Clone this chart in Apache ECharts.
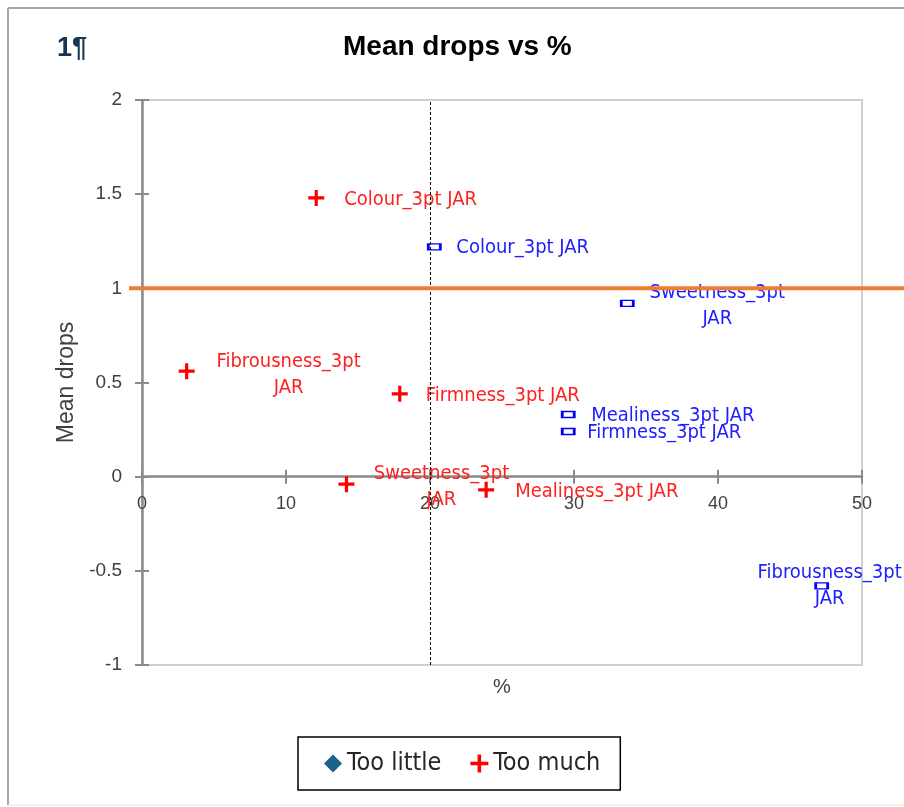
<!DOCTYPE html>
<html>
<head>
<meta charset="utf-8">
<script src="https://cdn.jsdelivr.net/npm/echarts@6/dist/echarts.min.js"></script>
<style>
  html, body { margin: 0; padding: 0; background: #ffffff; }
  #chart { width: 904px; height: 807px; }
</style>
</head>
<body>
<div id="chart"></div>
<script>
// ---- Data ----
const titleText = "Mean drops vs %";
const cornerText = "1¶";
const xAxisTitle = "%";
const yAxisTitle = "Mean drops";
const seriesNames = ["Too little", "Too much"];

const tooLittleX = [20.3, 33.7, 29.6, 29.6, 47.2];
const tooLittleY = [1.22, 0.92, 0.33, 0.24, -0.58];
const tooLittleLabels = ["Colour_3pt JAR", "Sweetness_3pt\nJAR", "Mealiness_3pt JAR", "Firmness_3pt JAR", "Fibrousness_3pt\nJAR"];

const tooMuchX = [12.1, 3.1, 17.9, 14.2, 23.9];
const tooMuchY = [1.48, 0.56, 0.44, -0.04, -0.07];
const tooMuchLabels = ["Colour_3pt JAR", "Fibrousness_3pt\nJAR", "Firmness_3pt JAR", "Sweetness_3pt\nJAR", "Mealiness_3pt JAR"];

const xMin = 0, xMax = 50, xInterval = 10;
const yMin = -1, yMax = 2, yInterval = 0.5;
const thresholdY = 1;          // horizontal reference line (orange)
const referenceX = 20;         // vertical dashed line

// ---- Layout / style (not data) ----
const gridLeft = 142, gridTop = 100, gridWidth = 720, gridHeight = 565;
// x axis crosses at y = 0: shift it up from the bottom edge by the scale
const xAxisOffset = -gridHeight * (0 - yMin) / (yMax - yMin);

const tooLittlePlacement = [
  { align: 'left', offset: [22, 1] },
  { align: 'center', offset: [90, 2] },
  { align: 'left', offset: [23, 1] },
  { align: 'left', offset: [19, 1] },
  { align: 'center', offset: [8, 0] }
];
const tooMuchPlacement = [
  { align: 'left', offset: [28, 2] },
  { align: 'center', offset: [102, 4] },
  { align: 'left', offset: [26, 2] },
  { align: 'center', offset: [95, 3] },
  { align: 'left', offset: [29, 2] }
];

const plusPath = 'path://M6,0h3v15h-3z M0,6h15v3h-15z';
const labelFont = 'DejaVu Sans Condensed';
const axisGray = '#8a8a8a';

function buildData(xs, ys, labels, placement, color) {
  return xs.map((x, i) => ({
    value: [x, ys[i]],
    label: {
      show: true,
      formatter: labels[i],
      position: 'inside',
      align: placement[i].align,
      verticalAlign: 'middle',
      offset: placement[i].offset,
      color: color,
      fontFamily: labelFont,
      fontSize: 20,
      lineHeight: 26
    }
  }));
}

const chart = echarts.init(document.getElementById('chart'), null, { renderer: 'canvas' });

const hiddenAxis = {
  axisLine: { show: false }, axisTick: { show: false },
  axisLabel: { show: false }, splitLine: { show: false }
};

const option = {
  animation: false,
  backgroundColor: '#ffffff',
  graphic: [
    { type: 'line', shape: { x1: 8, y1: 8, x2: 910, y2: 8 }, style: { stroke: '#a6a6a6', lineWidth: 2 }, z: 0 },
    { type: 'line', shape: { x1: 8, y1: 8, x2: 8, y2: 805 }, style: { stroke: '#a6a6a6', lineWidth: 2 }, z: 0 },
    { type: 'line', shape: { x1: 8, y1: 805, x2: 910, y2: 805 }, style: { stroke: '#e6e6e6', lineWidth: 1 }, z: 0 },
    { type: 'text', left: 343, top: 33, style: { text: titleText, font: 'bold 28px "Liberation Sans", Arial, sans-serif', fill: '#000000' }, z: 10 },
    { type: 'text', left: 57, top: 35, style: { text: cornerText, font: 'bold 27px "Liberation Sans", Arial, sans-serif', fill: '#153656' }, z: 10 }
  ],
  legend: {
    left: 298,
    top: 737,
    padding: [14, 20, 14, 26],
    borderColor: '#000000',
    borderWidth: 1.5,
    itemWidth: 18,
    itemHeight: 18,
    itemGap: 29,
    textStyle: { fontFamily: labelFont, fontSize: 25, color: '#262626' },
    data: [
      { name: seriesNames[0], icon: 'diamond', itemStyle: { color: '#1d6089', borderWidth: 0 } },
      { name: seriesNames[1], icon: plusPath, itemStyle: { color: '#ff0000', borderWidth: 0 } }
    ]
  },
  grid: [
    {
      left: gridLeft, top: gridTop, width: gridWidth, height: gridHeight,
      show: true,
      borderColor: '#cfcfcf',
      borderWidth: 2
    },
    // wide overlay grid for the orange reference line, which runs past the plot edges
    { left: 129, right: 0, top: gridTop, height: gridHeight, show: false }
  ],
  xAxis: [
    {
      gridIndex: 0, type: 'value', min: xMin, max: xMax, interval: xInterval,
      position: 'bottom', offset: xAxisOffset,
      axisLine: { show: true, onZero: false, lineStyle: { color: axisGray, width: 2.5 } },
      axisTick: { show: true, inside: false, length: 7, lineStyle: { color: axisGray, width: 2 } },
      axisLabel: { margin: 18, fontFamily: 'Liberation Sans', fontSize: 18, color: '#404040' },
      splitLine: { show: false }
    },
    {
      gridIndex: 0, type: 'value', min: xMin, max: xMax, interval: xInterval,
      position: 'bottom', offset: xAxisOffset,
      axisLine: { show: false, onZero: false },
      axisTick: { show: true, inside: true, length: 7, lineStyle: { color: axisGray, width: 2 } },
      axisLabel: { show: false },
      splitLine: { show: false }
    },
    {
      gridIndex: 0, type: 'value', min: xMin, max: xMax, interval: xInterval, position: 'bottom',
      axisLine: { show: false, onZero: false },
      axisTick: { show: false },
      axisLabel: { show: false },
      splitLine: { show: false },
      name: xAxisTitle, nameLocation: 'middle', nameGap: 12,
      nameTextStyle: { fontFamily: 'Liberation Sans', fontSize: 20, color: '#404040' }
    },
    Object.assign({ gridIndex: 1, type: 'value', min: 0, max: 1 }, hiddenAxis)
  ],
  yAxis: [
    {
      gridIndex: 0, type: 'value', min: yMin, max: yMax, interval: yInterval,
      position: 'left',
      axisLine: { show: true, onZero: false, lineStyle: { color: axisGray, width: 2.5 } },
      axisTick: { show: true, inside: false, length: 7, lineStyle: { color: axisGray, width: 2 } },
      axisLabel: { margin: 20, fontFamily: 'Liberation Sans', fontSize: 19, color: '#404040' },
      splitLine: { show: false },
      name: yAxisTitle, nameLocation: 'middle', nameGap: 64, nameRotate: 90,
      nameTextStyle: { fontFamily: 'Liberation Sans', fontSize: 23, color: '#404040' }
    },
    {
      // same scale, placed on the left edge, ticks pointing into the plot (cross ticks)
      gridIndex: 0, type: 'value', min: yMin, max: yMax, interval: yInterval,
      position: 'right', offset: -gridWidth,
      axisLine: { show: false, onZero: false },
      axisTick: { show: true, inside: false, length: 7, lineStyle: { color: axisGray, width: 2 } },
      axisLabel: { show: false },
      splitLine: { show: false }
    },
    Object.assign({ gridIndex: 1, type: 'value', min: yMin, max: yMax }, hiddenAxis)
  ],
  series: [
    {
      name: seriesNames[0],
      type: 'scatter',
      xAxisIndex: 0, yAxisIndex: 0,
      symbol: 'rect',
      symbolSize: [12, 6],
      itemStyle: { color: '#ffffff', borderColor: '#0000ff', borderWidth: 2, opacity: 1 },
      data: buildData(tooLittleX, tooLittleY, tooLittleLabels, tooLittlePlacement, '#2020ff'),
      z: 3,
      markLine: {
        silent: true,
        symbol: 'none',
        label: { show: false },
        lineStyle: { color: '#000000', type: [3, 2], width: 1 },
        data: [{ xAxis: referenceX }]
      }
    },
    {
      name: seriesNames[1],
      type: 'scatter',
      xAxisIndex: 0, yAxisIndex: 0,
      symbol: plusPath,
      symbolSize: 16,
      itemStyle: { color: '#ff0000', opacity: 1 },
      data: buildData(tooMuchX, tooMuchY, tooMuchLabels, tooMuchPlacement, '#ff2020'),
      z: 3
    },
    {
      name: 'threshold',
      type: 'line',
      xAxisIndex: 3, yAxisIndex: 2,
      symbol: 'none',
      silent: true,
      lineStyle: { color: '#ed7d31', width: 4 },
      data: [[0, thresholdY], [1, thresholdY]],
      z: 10
    }
  ]
};

chart.setOption(option);
</script>
</body>
</html>
